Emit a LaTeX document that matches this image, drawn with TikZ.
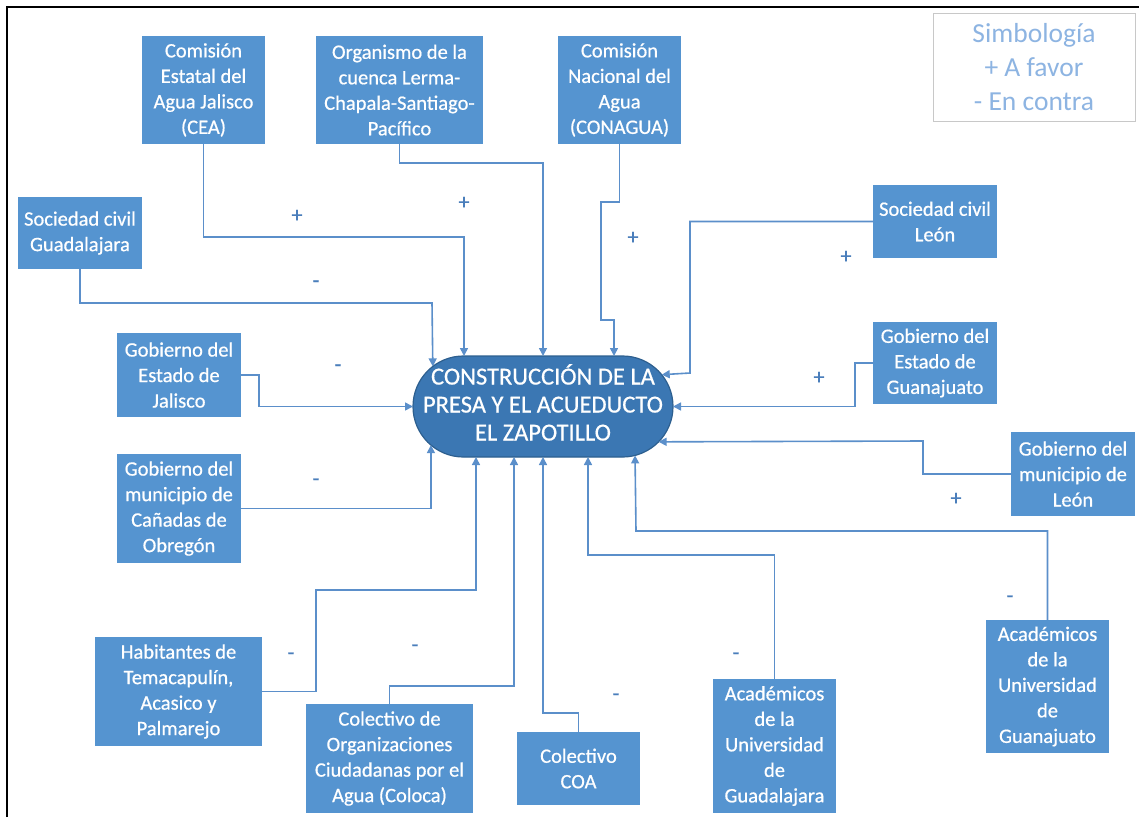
\documentclass[tikz,border=0pt]{standalone}
\usepackage{fontspec}
\setmainfont{Carlito}
\newfontfamily\heavyfont{Carlito}[FakeBold=0.6]
\usetikzlibrary{arrows.meta,shapes.misc}
\definecolor{boxblue}{HTML}{5594D0}
\definecolor{mainblue}{HTML}{3B77B3}
\definecolor{mainedge}{HTML}{2D5F8F}
\definecolor{linkblue}{HTML}{5B8FCA}
\definecolor{signblue}{HTML}{4A7EBB}
\definecolor{legendtext}{HTML}{8DB4E2}
\definecolor{legendedge}{HTML}{C8C8C8}
\begin{document}
\begin{tikzpicture}[x=1pt,y=-1pt,
  actor/.style={rectangle, fill=boxblue, text=white, align=center, inner sep=0pt, outer sep=0pt,
    font=\heavyfont\fontsize{20.5}{25.5}\selectfont},
  mainnode/.style={rounded rectangle, fill=mainblue, draw=mainedge, line width=1.2pt, text=white,
    minimum width=260pt, minimum height=101pt, inner sep=0pt, outer sep=0pt,
    font=\heavyfont\fontsize{24.5}{28}\selectfont},
  legend/.style={rectangle, fill=white, draw=legendedge, line width=0.8pt, text=legendtext, align=center,
    inner sep=0pt, font=\fontsize{27.5}{34}\selectfont},
  link/.style={draw=linkblue, line width=1.6pt, -{Triangle[length=8pt,width=8pt]}},
  sign/.style={text=signblue, inner sep=0pt, font=\heavyfont\fontsize{22}{24}\selectfont},
  frameline/.style={draw=black, line width=2.5pt}]
\useasboundingbox (0,0) rectangle (1139,817);
\draw[frameline] (7,817) -- (7,7) -- (1139,7);

% central node
\node[mainnode] (main) at (543,406.5) {\makebox[150pt]{\begin{tabular}{@{}c@{}}CONSTRUCCIÓN DE LA\\PRESA Y EL ACUEDUCTO\\EL ZAPOTILLO\end{tabular}}};

% legend
\node[legend, minimum width=202pt, minimum height=108pt] (sim) at (1034,67) {Simbología\\+ A favor\\- En contra};

% actors
\node[actor, minimum width=123pt, minimum height=108pt] (cea) at (203.5,90) {Comisión\\Estatal del\\Agua Jalisco\\(CEA)};
\node[actor, minimum width=167pt, minimum height=108pt] (org) at (399.5,90) {Organismo de la\\cuenca Lerma-\\Chapala-Santiago-\\Pacífico};
\node[actor, minimum width=123pt, minimum height=108pt] (con) at (619.5,90) {Comisión\\Nacional del\\Agua\\(CONAGUA)};
\node[actor, minimum width=124pt, minimum height=72pt] (scg) at (80,233) {Sociedad civil\\Guadalajara};
\node[actor, minimum width=124pt, minimum height=84pt] (gj) at (179,375) {Gobierno del\\Estado de\\Jalisco};
\node[actor, minimum width=124pt, minimum height=109pt] (can) at (179,508.5) {Gobierno del\\municipio de\\Cañadas de\\Obregón};
\node[actor, minimum width=167pt, minimum height=109pt] (hab) at (178.5,691.5) {Habitantes de\\Temacapulín,\\Acasico y\\Palmarejo};
\node[actor, minimum width=167pt, minimum height=109pt] (col) at (389.5,758.5) {Colectivo de\\Organizaciones\\Ciudadanas por el\\Agua (Coloca)};
\node[actor, minimum width=123pt, minimum height=73pt] (coa) at (578.5,768.5) {Colectivo\\COA};
\node[actor, minimum width=123pt, minimum height=134pt] (udg) at (774.5,746) {Académicos\\de la\\Universidad\\de\\Guadalajara};
\node[actor, minimum width=123pt, minimum height=133pt] (ugt) at (1047.5,686.5) {Académicos\\de la\\Universidad\\de\\Guanajuato};
\node[actor, minimum width=124pt, minimum height=73pt] (scl) at (935,221.5) {Sociedad civil\\León};
\node[actor, minimum width=124pt, minimum height=82pt] (gg) at (935,363) {Gobierno del\\Estado de\\Guanajuato};
\node[actor, minimum width=124pt, minimum height=84pt] (gml) at (1073,474) {Gobierno del\\municipio de\\León};

% bend points
\coordinate (k1) at (464,237);
\coordinate (k2) at (543,163);
\coordinate (k3a) at (601,202);
\coordinate (k3b) at (614,320);
\coordinate (k4) at (432,303);
\coordinate (k5) at (259,406.5);
\coordinate (k7a) at (316,590);
\coordinate (k7b) at (476,590);
\coordinate (k8) at (514,686);
\coordinate (k9) at (543,713);
\coordinate (k10) at (588,555);
\coordinate (k11) at (636,531);
\coordinate (k12) at (690,373);
\coordinate (k13) at (855,406.5);
\coordinate (k14) at (923,441);

% connectors
\draw[link] (cea.south) |- (k1) -- (k1 |- main.north);
\draw[link] (org.south) |- (k2) -- (main.north);
\draw[link] (con.south) |- (k3a) |- (k3b) -- (k3b |- main.north);
\draw[link] (scg.south) |- (k4) -- (main.160.4);
\draw[link] (gj.east) -| (k5) -- (main.west);
\draw[link] (can.east) -| (main.199.6);
\draw[link] (hab.east) -| (k7a) -- (k7b) -- (k7b |- main.south);
\draw[link] (col.north) |- (k8) -- (k8 |- main.south);
\draw[link] (coa.north) |- (k9) -- (main.south);
\draw[link] (udg.north) |- (k10) -- (k10 |- main.south);
\draw[link] (ugt.north) |- (k11) -- (main.332.4);
\draw[link] (scl.west) -| (k12) -- (main.15.9);
\draw[link] (gg.west) -| (k13) -- (main.east);
\draw[link] (gml.west) -| (k14) -- (main.343.5);

% signs
\node[sign] (s1) at (297,216) {+};
\node[sign] (s2) at (464,203) {+};
\node[sign] (s3) at (633,238) {+};
\node[sign] (s4) at (316,284) {-};
\node[sign] (s5) at (338,368) {-};
\node[sign] (s6) at (316,482) {-};
\node[sign] (s7) at (291,656) {-};
\node[sign] (s8) at (415,648) {-};
\node[sign] (s9) at (616,697) {-};
\node[sign] (s10) at (736,656) {-};
\node[sign] (s11) at (1010,599) {-};
\node[sign] (s12) at (846,257) {+};
\node[sign] (s13) at (819,378) {+};
\node[sign] (s14) at (956,499) {+};
\end{tikzpicture}
\end{document}
